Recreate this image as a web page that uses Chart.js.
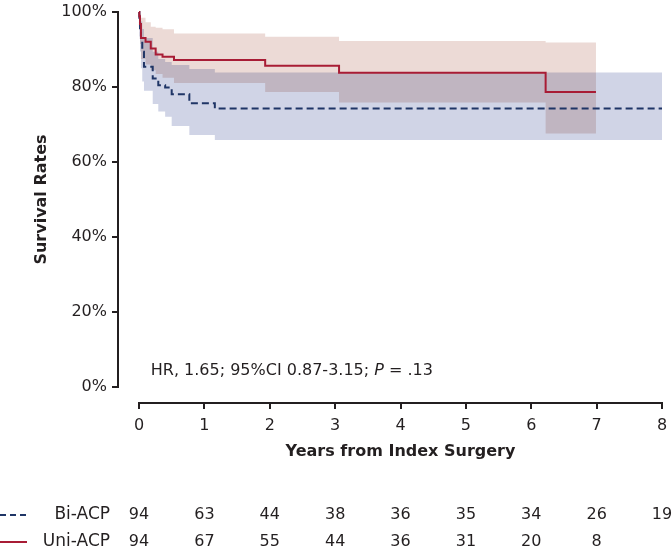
<!DOCTYPE html>
<html>
<head>
<meta charset="utf-8">
<script src="https://cdn.jsdelivr.net/npm/chart.js@4.4.1/dist/chart.umd.min.js"></script>
<style>
  html, body { margin: 0; padding: 0; background: #fff; }
  #wrap { width: 672px; height: 552px; position: relative; }
</style>
</head>
<body>
<div id="wrap"><canvas id="kmChart"></canvas></div>
<script>
(() => {

    // axis ticks
    const years = [0, 1, 2, 3, 4, 5, 6, 7, 8];
    const yTicks = [0, 20, 40, 60, 80, 100];

    // Uni-ACP: survival and 95% CI
    const uniTime  = [0, 0.005, 0.015, 0.03, 0.10, 0.18, 0.255, 0.36, 0.535, 1.93, 3.06, 6.22, 6.99];
    const uniSurv  = [100, 98.9, 96.8, 93.1, 92.1, 90.3, 88.7, 88.1, 87.2, 85.7, 83.8, 78.7, 78.7];
    const uniUpper = [100, 100, 99.5, 98.5, 97.3, 96.1, 95.8, 95.4, 94.3, 93.4, 92.3, 91.9, 91.9];
    const uniLower = [100, 95.5, 91.5, 87.5, 86.0, 84.5, 83.5, 82.5, 81.1, 78.7, 75.9, 67.6, 67.6];

    // Bi-ACP: survival and 95% CI
    const biTime  = [0, 0.005, 0.015, 0.03, 0.05, 0.076, 0.21, 0.295, 0.40, 0.50, 0.77, 1.16, 8.0];
    const biSurv  = [100, 97.9, 95.7, 92.6, 89.4, 85.4, 82.3, 80.5, 79.9, 78.1, 75.7, 74.3, 74.3];
    const biUpper = [100, 100, 99.2, 97.5, 95.5, 93.1, 89.4, 87.5, 86.7, 85.9, 84.8, 83.9, 83.9];
    const biLower = [100, 93.5, 89.5, 85.0, 81.5, 79.0, 75.5, 73.5, 72.1, 69.6, 67.2, 65.9, 65.9];

    // numbers at risk at each year
    const biAtRisk  = [94, 63, 44, 38, 36, 35, 34, 26, 19];
    const uniAtRisk = [94, 67, 55, 44, 36, 31, 20, 8];

    const hrText = 'HR, 1.65; 95%CI 0.87-3.15; ';

    const FONT = '"DejaVu Sans", sans-serif';
    const INK = '#231f20';
    const RED = '#a81c35';
    const NAVY = '#1f3566';

    const pts = (t, v) => t.map((x, i) => ({ x: x, y: v[i] }));

    const band = (t, v, fill, color) => ({
        data: pts(t, v),
        stepped: true,
        borderWidth: 0,
        borderColor: 'rgba(0,0,0,0)',
        backgroundColor: color || 'rgba(0,0,0,0)',
        pointRadius: 0,
        fill: fill
    });

    // axes lines, note text and table at risk
    const kmExtras = {
        id: 'kmExtras',
        beforeDraw(chart) {
            // CI bands overlap like a multiply print
            chart.ctx.globalCompositeOperation = 'multiply';
        },
        beforeDatasetsDraw(chart) {
            chart.ctx.globalCompositeOperation = 'source-over';
        },
        afterDraw(chart) {
            const { ctx, chartArea: area } = chart;
            const x = chart.scales.x;
            const y = chart.scales.y;
            ctx.save();
            ctx.globalCompositeOperation = 'source-over';
            ctx.strokeStyle = INK;
            ctx.lineWidth = 2;
            ctx.beginPath();
            const ax = area.left - 21;
            ctx.moveTo(ax, y.getPixelForValue(100) - 1);
            ctx.lineTo(ax, y.getPixelForValue(0) + 1);
            yTicks.forEach(v => {
                const py = Math.round(y.getPixelForValue(v));
                ctx.moveTo(ax - 6, py);
                ctx.lineTo(ax, py);
            });
            const ay = Math.round(area.bottom + 16);
            ctx.moveTo(x.getPixelForValue(0) - 1, ay);
            ctx.lineTo(x.getPixelForValue(8) + 1, ay);
            years.forEach(v => {
                const px = Math.round(x.getPixelForValue(v));
                ctx.moveTo(px, ay);
                ctx.lineTo(px, ay + 6);
            });
            ctx.stroke();

            // HR note
            ctx.fillStyle = INK;
            ctx.textBaseline = 'middle';
            ctx.textAlign = 'left';
            let tx = x.getPixelForValue(0.18);
            const ty = y.getPixelForValue(4.3);
            ctx.font = '16px ' + FONT;
            ctx.fillText(hrText, tx, ty);
            tx += ctx.measureText(hrText).width;
            ctx.font = 'italic 16px ' + FONT;
            ctx.fillText('P', tx, ty);
            tx += ctx.measureText('P').width;
            ctx.font = '16px ' + FONT;
            ctx.fillText(' = .13', tx, ty);

            // numbers at risk
            const rows = [
                { name: 'Bi-ACP', counts: biAtRisk, color: NAVY, dash: [6, 4] },
                { name: 'Uni-ACP', counts: uniAtRisk, color: RED, dash: [] }
            ];
            rows.forEach((r, i) => {
                const ry = area.bottom + 128 + i * 27;
                ctx.strokeStyle = r.color;
                ctx.lineWidth = 2;
                ctx.setLineDash(r.dash);
                ctx.beginPath();
                ctx.moveTo(0, ry);
                ctx.lineTo(27, ry);
                ctx.stroke();
                ctx.setLineDash([]);
                ctx.fillStyle = INK;
                ctx.textAlign = 'right';
                ctx.font = '17px ' + FONT;
                ctx.fillText(r.name, 110, ry);
                ctx.textAlign = 'center';
                ctx.font = '16px ' + FONT;
                r.counts.forEach((n, k) => {
                    ctx.fillText(String(n), x.getPixelForValue(years[k]), ry);
                });
            });
            ctx.restore();
        }
    };

    const ctx = document.getElementById('kmChart').getContext('2d');
    new Chart(ctx, {
        type: 'line',
        data: {
            datasets: [
                { label: 'Uni-ACP', data: pts(uniTime, uniSurv), stepped: true, borderColor: RED, borderWidth: 2, pointRadius: 0, fill: false, clip: false },
                { label: 'Bi-ACP', data: pts(biTime, biSurv), stepped: true, borderColor: NAVY, borderWidth: 2, borderDash: [7, 4], pointRadius: 0, fill: false, clip: false },
                band(biTime, biLower, false),
                band(biTime, biUpper, '-1', '#d0d4e6'),
                band(uniTime, uniLower, false),
                band(uniTime, uniUpper, '-1', '#ecdad6')
            ]
        },
        options: {
            responsive: true,
            maintainAspectRatio: false,
            animation: false,
            devicePixelRatio: 1,
            layout: { padding: { top: 12, right: 10, bottom: 90.6, left: 0 } },
            plugins: {
                legend: { display: false },
                tooltip: { enabled: false },
                filler: { drawTime: 'beforeDatasetsDraw' }
            },
            scales: {
                x: {
                    type: 'linear',
                    min: 0,
                    max: 8,
                    border: { display: false },
                    // invisible tick marks only reserve the gap above the labels
                    grid: { display: false, drawTicks: true, tickLength: 29 },
                    afterBuildTicks: s => { s.ticks = years.map(v => ({ value: v })); },
                    ticks: { padding: 0, color: INK, maxRotation: 0, autoSkip: false, font: { family: FONT, size: 16 } },
                    title: {
                        display: true,
                        text: 'Years from Index Surgery',
                        color: INK,
                        font: { family: FONT, size: 16, weight: 'bold' },
                        padding: { top: 7, bottom: 0 }
                    }
                },
                y: {
                    min: 0,
                    max: 100,
                    border: { display: false },
                    grid: { display: false, drawTicks: true, tickLength: 32 },
                    afterBuildTicks: s => { s.ticks = yTicks.map(v => ({ value: v })); },
                    afterFit: s => { s.width = 139; },
                    ticks: { padding: 0, color: INK, font: { family: FONT, size: 16 }, callback: v => v + '%' },
                    title: {
                        display: true,
                        text: 'Survival Rates',
                        color: INK,
                        font: { family: FONT, size: 16, weight: 'bold' },
                        padding: { top: 32, bottom: 0 }
                    }
                }
            }
        },
        plugins: [kmExtras]
    });
})();
</script>
</body>
</html>
